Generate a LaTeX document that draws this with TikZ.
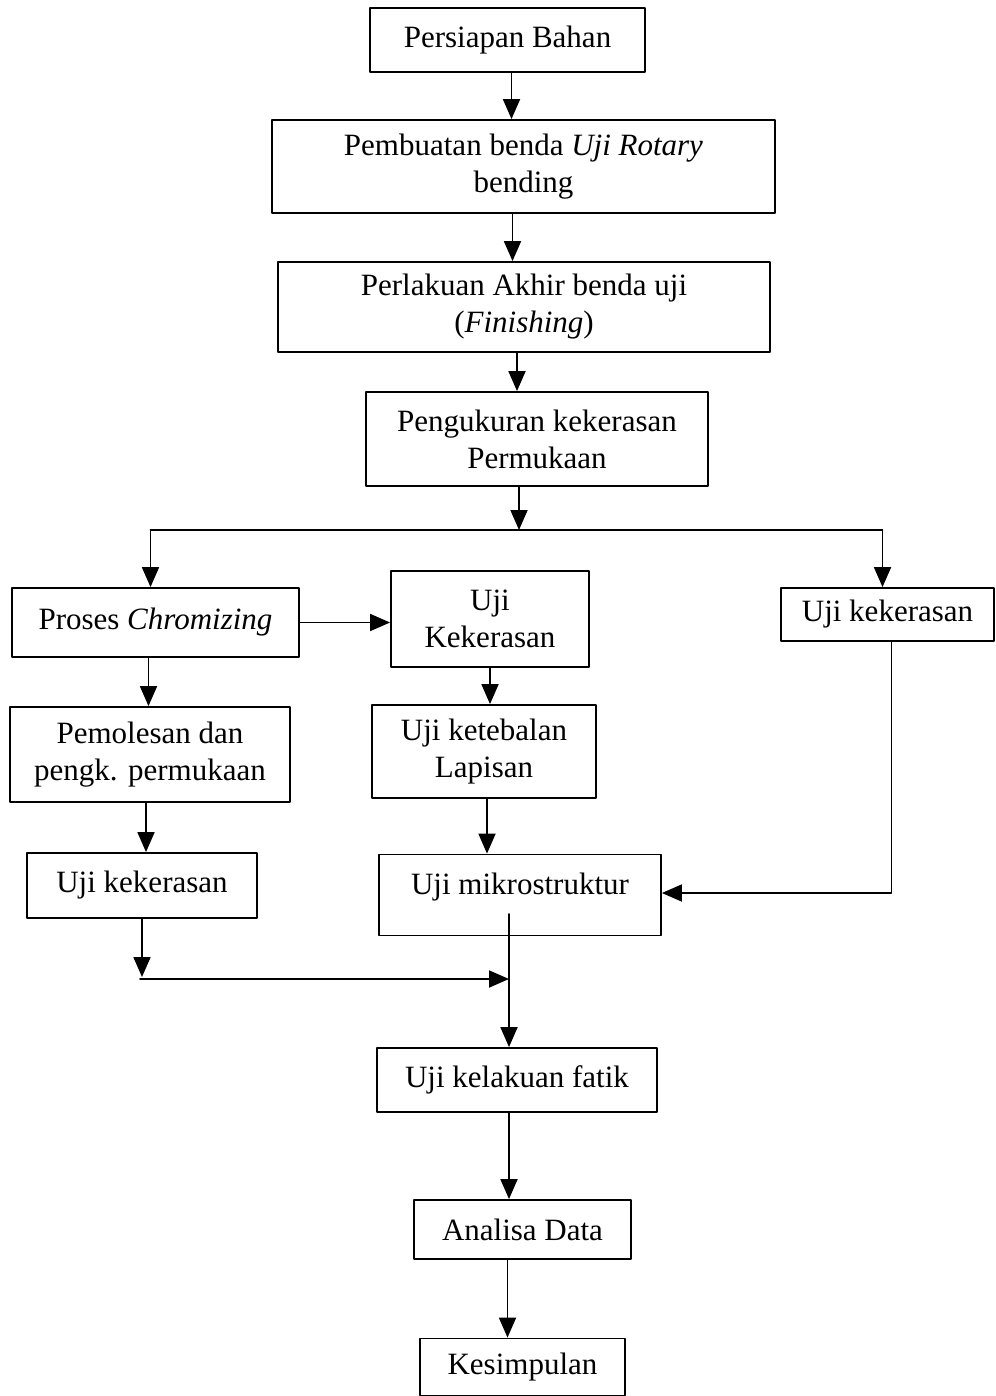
\documentclass[tikz,border=0pt]{standalone}
\usepackage{fontspec}
\setmainfont{Liberation Serif}
\usetikzlibrary{arrows.meta}
\newcommand{\stagefont}{\fontsize{31}{37}\selectfont}

\begin{document}
\begin{tikzpicture}[x=1pt, y=-1pt, line cap=round, line join=round,
    stage/.style={draw, line width=1.8pt, align=center, inner sep=0pt, font=\stagefont},
    flow/.style={-{Triangle[length=20pt, width=17pt]}, line width=1.8pt}]
        \useasboundingbox (0, 0) rectangle (995, 1396);
        % draw main column
        \node[stage, minimum width=275pt, minimum height=64pt] (bahan) at (507.5, 40) {Persiapan Bahan};
        \node[stage, minimum width=503pt, minimum height=93pt] (benda) at (523.5, 166.5) {Pembuatan benda \textit{Uji Rotary}\\bending};
        \node[stage, minimum width=492pt, minimum height=90pt] (akhir) at (524, 307) {Perlakuan Akhir benda uji\\(\textit{Finishing})};
        \node[stage, minimum width=342pt, minimum height=94pt] (ukur) at (537, 439) {Pengukuran kekerasan\\Permukaan};
        % draw three branches
        \node[stage, minimum width=287pt, minimum height=69pt] (chrom) at (155.5, 622.5) {Proses \textit{Chromizing}};
        \node[stage, minimum width=198pt, minimum height=96pt] (kerasA) at (490, 619) {Uji\\Kekerasan};
        \node[stage, minimum width=213pt, minimum height=53pt] (kerasR) at (887.5, 614.5) {Uji kekerasan};
        \node[stage, minimum width=280pt, minimum height=95pt] (poles) at (150, 754.5) {Pemolesan dan\\pengk. permukaan};
        \node[stage, minimum width=224pt, minimum height=93pt] (tebal) at (484, 751.5) {Uji ketebalan\\Lapisan};
        \node[stage, minimum width=230pt, minimum height=65pt] (kerasL) at (142, 885.5) {Uji kekerasan};
        \node[stage, minimum width=282pt, text height=40pt, text depth=41pt] (mikro) at (520, 895) {Uji mikrostruktur};
        % draw closing column
        \node[stage, minimum width=280pt, minimum height=64pt] (fatik) at (517, 1080) {Uji kelakuan fatik};
        \node[stage, minimum width=217pt, minimum height=59pt] (analisa) at (522.5, 1229.5) {Analisa Data};
        \node[stage, minimum width=205pt, minimum height=57pt] (simpul) at (522.5, 1367) {Kesimpulan};
        % helper points
        \coordinate (split) at (519, 530);
        \coordinate (joinL) at (142, 977);
        \coordinate (join) at (509, 979);
        \coordinate (mstart) at (509, 914);
        % draw main flow
        \draw[flow] ([xshift=4pt]bahan.south) -- ([xshift=4pt]bahan.south |- benda.north);
        \draw[flow] ([xshift=-11pt]benda.south) -- ([xshift=-11pt]benda.south |- akhir.north);
        \draw[flow] ([xshift=-7pt]akhir.south) -- ([xshift=-7pt]akhir.south |- ukur.north);
        \draw[flow] (ukur.south -| split) -- (split);
        % draw split line
        \draw[line width=1.8pt] ([xshift=-5pt]chrom.north |- split) -- ([xshift=-5pt]kerasR.north |- split);
        \draw[flow] ([xshift=-5pt]chrom.north |- split) -- ([xshift=-5pt]chrom.north);
        \draw[flow] ([xshift=-5pt]kerasR.north |- split) -- ([xshift=-5pt]kerasR.north);
        % draw branch flows
        \draw[flow] (chrom.east) -- (chrom.east -| kerasA.west);
        \draw[flow] ([xshift=-7pt]chrom.south) -- ([xshift=-7pt]chrom.south |- poles.north);
        \draw[flow] (kerasA.south) -- (kerasA.south |- tebal.north);
        \draw[flow] ([xshift=-4pt]poles.south) -- ([xshift=-4pt]poles.south |- kerasL.north);
        \draw[flow] ([xshift=3pt]tebal.south) -- ([xshift=3pt]tebal.south |- mikro.north);
        \draw[flow] ([xshift=4pt]kerasR.south) |- ([yshift=2pt]mikro.east);
        % draw joining lines
        \draw[flow] (kerasL.south) -- (joinL);
        \draw[flow] ([xshift=-2pt]joinL |- join) -- (join);
        \draw[flow] (mstart) -- (mstart |- fatik.north);
        \draw[flow] (mstart |- fatik.south) -- (mstart |- analisa.north);
        \draw[flow] ([xshift=-15pt]analisa.south) -- ([xshift=-15pt]analisa.south |- simpul.north);
    \end{tikzpicture}
\end{document}
